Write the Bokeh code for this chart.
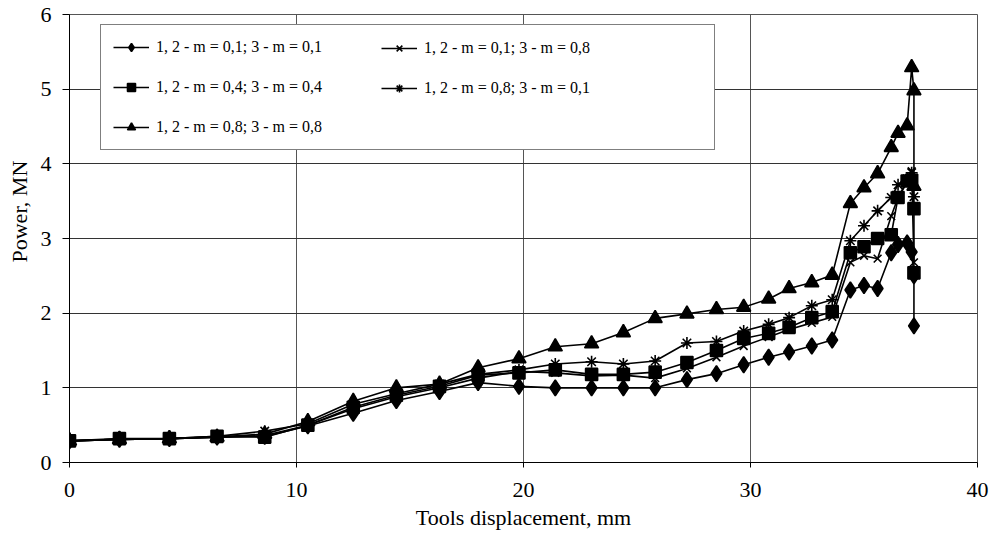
from bokeh.plotting import figure
from bokeh.models import Legend, LegendItem, Range1d, FixedTicker, Title
from bokeh.embed import file_html
from bokeh.resources import INLINE

# Data
x_tick_values = [0, 10, 20, 30, 40]
y_tick_values = [0, 1, 2, 3, 4, 5, 6]

x_d = [0, 2.2, 4.4, 6.5, 8.6, 10.5, 12.5, 14.4, 16.3, 18.0, 19.8, 21.4, 23.0, 24.4, 25.8, 27.2,
       28.5, 29.7, 30.8, 31.7, 32.7, 33.6, 34.4, 35.0, 35.6, 36.2, 36.5, 36.9, 37.1, 37.2, 37.2]
y_d = [0.29, 0.31, 0.32, 0.34, 0.35, 0.49, 0.66, 0.83, 0.95, 1.07, 1.02, 1.0, 1.0, 1.0, 1.0, 1.11,
       1.19, 1.31, 1.41, 1.48, 1.56, 1.64, 2.31, 2.37, 2.33, 2.81, 2.92, 2.94, 2.82, 2.5, 1.83]

x_x = [0, 2.2, 4.4, 6.5, 8.6, 10.5, 12.5, 14.4, 16.3, 18.0, 19.8, 21.4, 23.0, 24.4, 25.8, 27.2,
       28.5, 29.7, 30.8, 31.7, 32.7, 33.6, 34.4, 35.0, 35.6, 36.2, 36.5, 36.9, 37.1, 37.2]
y_x = [0.29, 0.31, 0.32, 0.34, 0.36, 0.5, 0.72, 0.88, 1.0, 1.13, 1.22, 1.2, 1.16, 1.17, 1.13, 1.26,
       1.41, 1.56, 1.68, 1.78, 1.87, 1.95, 2.68, 2.77, 2.73, 3.3, 3.55, 3.75, 3.9, 2.68]

x_s = [0, 2.2, 4.4, 6.5, 8.6, 10.5, 12.5, 14.4, 16.3, 18.0, 19.8, 21.4, 23.0, 24.4, 25.8, 27.2,
       28.5, 29.7, 30.8, 31.7, 32.7, 33.6, 34.4, 35.0, 35.6, 36.2, 36.5, 36.9, 37.1, 37.2, 37.2]
y_s = [0.29, 0.32, 0.32, 0.35, 0.34, 0.5, 0.74, 0.9, 1.02, 1.17, 1.2, 1.24, 1.18, 1.18, 1.21, 1.34,
       1.5, 1.66, 1.73, 1.81, 1.94, 2.02, 2.81, 2.89, 3.0, 3.05, 3.55, 3.77, 3.78, 3.4, 2.54]

x_a = [0, 2.2, 4.4, 6.5, 8.6, 10.5, 12.5, 14.4, 16.3, 18.0, 19.8, 21.4, 23.0, 24.4, 25.8, 27.2,
       28.5, 29.7, 30.8, 31.7, 32.7, 33.6, 34.4, 35.0, 35.6, 36.2, 36.5, 36.9, 37.1, 37.2]
y_a = [0.29, 0.31, 0.32, 0.35, 0.42, 0.52, 0.78, 0.92, 1.05, 1.18, 1.24, 1.32, 1.35, 1.32, 1.36, 1.6,
       1.62, 1.76, 1.85, 1.94, 2.1, 2.18, 2.97, 3.17, 3.37, 3.55, 3.72, 3.8, 3.88, 3.56]

x_t = [0, 2.2, 4.4, 6.5, 8.6, 10.5, 12.5, 14.4, 16.3, 18.0, 19.8, 21.4, 23.0, 24.4, 25.8, 27.2,
       28.5, 29.7, 30.8, 31.7, 32.7, 33.6, 34.4, 35.0, 35.6, 36.2, 36.5, 36.9, 37.1, 37.2, 37.2]
y_t = [0.29, 0.31, 0.32, 0.34, 0.38, 0.55, 0.82, 1.0, 1.05, 1.27, 1.39, 1.55, 1.59, 1.74, 1.93, 1.99,
       2.05, 2.08, 2.19, 2.33, 2.41, 2.51, 3.47, 3.68, 3.87, 4.22, 4.41, 4.51, 5.29, 4.98, 3.7]

labels = [
    "1, 2 - m = 0,1; 3 - m = 0,1",
    "1, 2 - m = 0,1; 3 - m = 0,8",
    "1, 2 - m = 0,4; 3 - m = 0,4",
    "1, 2 - m = 0,8; 3 - m = 0,1",
    "1, 2 - m = 0,8; 3 - m = 0,8",
]

FONT = "Liberation Serif"

p = figure(width=996, height=535, output_backend="svg", toolbar_location=None,
           x_range=Range1d(0, 40), y_range=Range1d(0, 6),
           min_border_left=68, min_border_top=14, min_border_right=19, min_border_bottom=73)
p.background_fill_color = "white"
p.outline_line_color = "#555555"

p.xaxis.ticker = FixedTicker(ticks=x_tick_values)
p.yaxis.ticker = FixedTicker(ticks=y_tick_values)
for ax in (p.xaxis[0], p.yaxis[0]):
    ax.axis_line_color = "black"
    ax.major_tick_line_color = "black"
    ax.minor_tick_line_color = None
    ax.major_tick_in = 0
    ax.major_label_text_font = FONT
    ax.major_label_text_font_size = "22px"
    ax.major_label_text_color = "black"
    ax.axis_label_text_font = FONT
    ax.axis_label_text_font_size = "22px"
    ax.axis_label_text_font_style = "normal"
    ax.axis_label_text_color = "black"
p.xaxis.major_tick_out = 5
p.yaxis.major_tick_out = 7
p.xaxis.major_label_standoff = 15
p.yaxis.major_label_standoff = 11
p.xaxis.axis_label = "Tools displacement, mm"
p.xaxis.axis_label_standoff = 5

# y-axis title placed as a side title (it sits above the frame's middle in the reference)
ytitle = Title(text="Power, MN", align="left", offset=200, vertical_align="middle",
               text_font=FONT, text_font_size="22px", text_font_style="normal",
               text_color="black", standoff=10)
p.add_layout(ytitle, "left")

p.xgrid.grid_line_color = "#555555"
p.ygrid.grid_line_color = "#333333"

series = [
    (x_d, y_d, "diamond", 16),
    (x_x, y_x, "x", 11),
    (x_s, y_s, "square", 12),
    (x_a, y_a, "asterisk", 12),
    (x_t, y_t, "triangle", 14),
]
items = []
for (xs, ys, mk, sz), lab in zip(series, labels):
    lr = p.line(xs, ys, line_color="black", line_width=1.6)
    sr = p.scatter(xs, ys, marker=mk, size=sz, fill_color="black", line_color="black", line_width=1.6)
    items.append(LegendItem(label=lab, renderers=[lr, sr]))

common = dict(label_text_font=FONT, label_text_font_size="16px", label_text_color="black",
              glyph_width=36, glyph_height=20, label_height=20, label_standoff=7,
              padding=12, spacing=20, margin=0)

leg1 = Legend(items=[items[0], items[2], items[4]], location=(31, 312),
              border_line_color="black", border_line_width=1, background_fill_color="white",
              background_fill_alpha=1.0, label_width=546, **common)
leg2 = Legend(items=[items[1], items[3]], location=(300, 352),
              border_line_alpha=0, background_fill_alpha=0, label_width=100, **common)
p.add_layout(leg1)
p.add_layout(leg2)

open("out.html", "w").write(file_html(p, INLINE))
